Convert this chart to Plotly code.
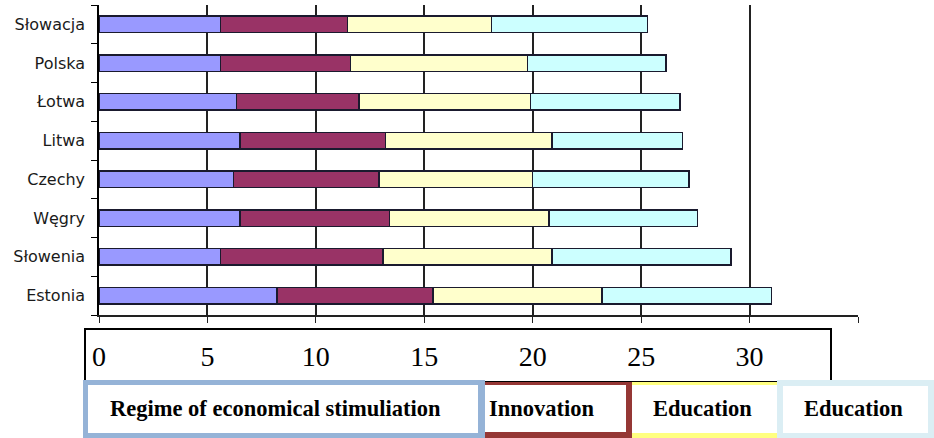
import plotly.graph_objects as go

# Countries listed bottom-to-top as they appear on the category axis
countries = ["Estonia", "Słowenia", "Węgry", "Czechy", "Litwa", "Łotwa", "Polska", "Słowacja"]

regime = [8.2, 5.6, 6.5, 6.2, 6.5, 6.35, 5.6, 5.6]
innovation = [7.2, 7.5, 6.9, 6.7, 6.7, 5.65, 6.0, 5.85]
education = [7.8, 7.8, 7.35, 7.1, 7.7, 7.9, 8.15, 6.65]
education2 = [7.8, 8.25, 6.85, 7.2, 6.0, 6.9, 6.4, 7.2]

series_names = ["Regime of economical stimuliation", "Innovation", "Education", "Education"]
fill_colors = ["#9999ff", "#993366", "#ffffcc", "#ccffff"]

x_ticks = [0, 5, 10, 15, 20, 25, 30, 35]
x_tick_text = ["0", "5", "10", "15", "20", "25", "30", ""]

W, H = 934, 438
ML, MR, MT, MB = 99, 76, 5, 123
PW, PH = W - ML - MR, H - MT - MB


def px(xp):
    return (xp - ML) / PW


def py(yp):
    return (H - MB - yp) / PH


fig = go.Figure()
for name, vals, col in zip(series_names, [regime, innovation, education, education2], fill_colors):
    fig.add_trace(go.Bar(
        y=countries, x=vals, name=name, orientation="h",
        marker=dict(color=col, line=dict(color="#1a1a2e", width=1.5)),
    ))

shapes = []
annotations = []

# Box framing the value scale under the axis
shapes.append(dict(type="rect", xref="paper", yref="paper",
                   x0=px(85), x1=px(831), y0=py(329), y1=py(382),
                   line=dict(color="black", width=2), fillcolor="rgba(0,0,0,0)"))

# Legend-like labelled boxes: outer coloured frame, inner white panel
boxes = [
    # (outer x0, x1, y0, y1), (inner x0, x1, y0, y1), colour
    ((83, 485, 380, 438), (88, 478, 385, 433), "#95b3d7"),
    ((485, 632, 382, 438), (485, 626, 385, 432), "#953735"),
    ((632, 777, 382, 438), (632, 777, 385, 433), "#ffff80"),
    ((777, 934, 380, 438), (783, 928, 386, 433), "#dbeef4"),
]
for (o, i, col) in boxes:
    shapes.append(dict(type="rect", xref="paper", yref="paper",
                       x0=px(o[0]), x1=px(o[1]), y0=py(o[3]), y1=py(o[2]),
                       line=dict(width=0), fillcolor=col, layer="above"))
    shapes.append(dict(type="rect", xref="paper", yref="paper",
                       x0=px(i[0]), x1=px(i[1]), y0=py(i[3]), y1=py(i[2]),
                       line=dict(width=0), fillcolor="white", layer="above"))

label_pos = [108, 487, 651, 802]
for name, xl in zip(series_names, label_pos):
    annotations.append(dict(
        text="<b>%s</b>" % name, xref="paper", yref="paper",
        x=px(xl), y=py(408), xanchor="left", yanchor="middle", showarrow=False,
        font=dict(family="Liberation Serif", size=22.5, color="black"),
    ))

fig.update_layout(
    width=W, height=H,
    margin=dict(l=ML, r=MR, t=MT, b=MB, pad=0),
    barmode="stack", bargap=0.57,
    showlegend=False,
    plot_bgcolor="white", paper_bgcolor="white",
    shapes=shapes, annotations=annotations,
    xaxis=dict(
        range=[0, 35], tickvals=x_ticks, ticktext=x_tick_text,
        showgrid=True, gridcolor="#222222", gridwidth=1.5,
        zeroline=False, showline=True, linecolor="#222222", linewidth=1.5,
        ticks="outside", ticklen=6, tickcolor="#222222", tickwidth=1,
        ticklabelstandoff=10,
        tickfont=dict(family="Liberation Serif", size=28, color="black"),
    ),
    yaxis=dict(
        categoryorder="array", categoryarray=countries,
        showline=True, linecolor="black", linewidth=1.5,
        ticks="outside", ticklen=6, tickcolor="black", tickson="boundaries",
        showgrid=False,
        tickfont=dict(family="DejaVu Sans", size=16, color="#1a1a1a"),
        ticklabelstandoff=9,
    ),
)

fig.write_html("out.html")
